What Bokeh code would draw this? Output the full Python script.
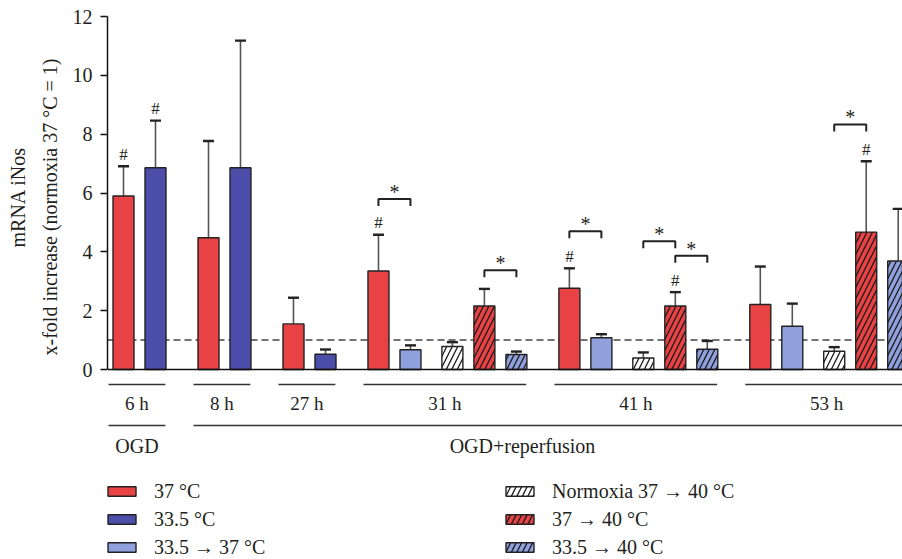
import math
from bokeh.plotting import figure
from bokeh.models import (Range1d, FixedTicker, Span, Whisker, TeeHead, ColumnDataSource,
                          Legend, LegendItem, Title)
from bokeh.core.properties import value
from bokeh.embed import file_html
from bokeh.resources import INLINE

# ---------------- data ----------------
groups = ["6 h", "8 h", "27 h", "31 h", "41 h", "53 h"]
conditions = ["37 °C", "33.5 °C", "33.5 → 37 °C",
              "Normoxia 37 → 40 °C", "37 → 40 °C", "33.5 → 40 °C"]
hatched = [False, False, False, True, True, True]
colors = ["#E84244", "#4C4EA9", "#8FA0DC", "#FFFFFF", "#E84244", "#8FA0DC"]

mean_37 = [5.90, 4.48, 1.55, 3.35, 2.76, 2.21]
sd_37 = [1.01, 3.29, 0.89, 1.23, 0.68, 1.29]
mean_335 = [6.86, 6.86, 0.52, None, None, None]
sd_335 = [1.60, 4.32, 0.16, None, None, None]
mean_335_37 = [None, None, None, 0.67, 1.08, 1.47]
sd_335_37 = [None, None, None, 0.15, 0.12, 0.77]
mean_norm_40 = [None, None, None, 0.78, 0.39, 0.62]
sd_norm_40 = [None, None, None, 0.15, 0.19, 0.14]
mean_37_40 = [None, None, None, 2.16, 2.16, 4.67]
sd_37_40 = [None, None, None, 0.58, 0.47, 2.41]
mean_335_40 = [None, None, None, 0.51, 0.69, 3.69]
sd_335_40 = [None, None, None, 0.10, 0.28, 1.77]

means = [mean_37, mean_335, mean_335_37, mean_norm_40, mean_37_40, mean_335_40]
sds = [sd_37, sd_335, sd_335_37, sd_norm_40, sd_37_40, sd_335_40]

# "#" marks: (group, condition index)
hash_marks = [("6 h", 0), ("6 h", 1), ("31 h", 0), ("41 h", 0), ("41 h", 4), ("53 h", 4)]
# "*" brackets: (group, condition a, condition b, bracket level)
brackets = [("31 h", 0, 2, 5.80), ("31 h", 4, 5, 3.37), ("41 h", 0, 2, 4.70),
            ("41 h", 3, 4, 4.36), ("41 h", 4, 5, 3.87), ("53 h", 3, 4, 8.33)]
phase_labels = ["OGD", "OGD+reperfusion"]
y_ticks = [0, 2, 4, 6, 8, 10, 12]
y_title_1 = "mRNA iNos"
y_title_2 = "x-fold increase (normoxia 37 °C = 1)"

# ---------------- layout ----------------
W, H = 902, 559
LEFT, TOP = 107, 16
PX_UNIT = 32.0                    # pixels per x unit
PPU = (369 - 16) / 12.0           # pixels per y unit
FRAME_H = H - TOP
BAR_W = 21 / PX_UNIT
X0, STEP, SUB_GAP, GROUP_GAP = 0.50, 1.0, 1.31, 1.656
FONT = "Liberation Serif"
TXT = "#231F20"


def y_px(py):
    return (369 - py) / PPU


def x_px(px):
    return (px - LEFT) / PX_UNIT


pos = {}
x = X0 - GROUP_GAP
for gi in range(len(groups)):
    x += GROUP_GAP
    first = True
    prev_h = False
    for ci in range(len(conditions)):
        if means[ci][gi] is None:
            continue
        if not first:
            x += SUB_GAP if (hatched[ci] and not prev_h) else STEP
        pos[(gi, ci)] = x
        first = False
        prev_h = hatched[ci]

p = figure(width=W, height=H, output_backend="svg", toolbar_location=None,
           x_range=Range1d(0, (W - LEFT) / PX_UNIT),
           y_range=Range1d(12 - FRAME_H / PPU, 12),
           x_axis_location=None, min_border_left=LEFT, min_border_top=TOP,
           min_border_bottom=0, min_border_right=0)
p.outline_line_color = None
p.xgrid.visible = False
p.ygrid.visible = False
p.background_fill_color = "white"

# reference dashed line
p.add_layout(Span(location=1, dimension="width", line_color="#444444", line_width=1.5,
                  line_dash="7 4", level="underlay"))

rends = []
for ci, cond in enumerate(conditions):
    xs, tops, ups = [], [], []
    for gi in range(len(groups)):
        if means[ci][gi] is None:
            continue
        xs.append(pos[(gi, ci)])
        tops.append(means[ci][gi])
        ups.append(means[ci][gi] + sds[ci][gi])
    src = ColumnDataSource(dict(x=xs, top=tops, upper=ups))
    kw = {}
    if hatched[ci]:
        kw = dict(hatch_pattern="/", hatch_color="#1A1A1A", hatch_scale=11, hatch_weight=1.3)
    r = p.vbar(x="x", top="top", bottom=0, width=BAR_W, source=src,
               fill_color=colors[ci], line_color="#222222", line_width=1.4, **kw)
    rends.append(r)
    p.add_layout(Whisker(base="x", upper="upper", lower="top", source=src,
                         line_color="#555555", line_width=1.6,
                         upper_head=TeeHead(size=11, line_color="#222222", line_width=2.4),
                         lower_head=None))

# baseline
p.add_layout(Span(location=0, dimension="width", line_color="#111111", line_width=1.5))

# hash marks
hx, hy = [], []
for g, ci in hash_marks:
    gi = groups.index(g)
    hx.append(pos[(gi, ci)])
    hy.append(means[ci][gi] + sds[ci][gi] + 12 / PPU)
p.text(x=hx, y=hy, text=["#"] * len(hx), text_font=value(FONT), text_font_size="17px",
       text_align="center", text_baseline="middle", text_color=TXT)

# brackets
bxs, bys, sx, sy = [], [], [], []
LEG = 7 / PPU
for g, a, b, lvl in brackets:
    gi = groups.index(g)
    xa, xb = pos[(gi, a)], pos[(gi, b)]
    bxs.append([xa, xa, xb, xb])
    bys.append([lvl - LEG, lvl, lvl, lvl - LEG])
    sx.append((xa + xb) / 2)
    sy.append(lvl + 7 / PPU)
p.multi_line(bxs, bys, line_color="#222222", line_width=2)
p.text(x=sx, y=sy, text=["*"] * len(sx), text_font=value(FONT), text_font_size="20px",
       text_align="center", text_baseline="middle", text_color=TXT)

# group underlines and labels
lx, ly, lt = [], [], []
gx0, gx1 = [], []
for gi, g in enumerate(groups):
    xs = [pos[k] for k in pos if k[0] == gi]
    a = min(xs) - BAR_W / 2 - 0.14
    b = max(xs) + BAR_W / 2 - 0.02
    gx0.append(a)
    gx1.append(b)
    lx.append((a + b) / 2)
    ly.append(y_px(402.5))
    lt.append(g)
p.segment(x0=gx0, y0=[y_px(384)] * len(gx0), x1=gx1, y1=[y_px(384)] * len(gx1),
          line_color="#333333", line_width=1.6)
p.text(x=lx, y=ly, text=lt, text_font=value(FONT), text_font_size="19px",
       text_align="center", text_baseline="middle", text_color=TXT)

# phase lines and labels
p.segment(x0=[gx0[0], gx0[1]], y0=[y_px(425)] * 2, x1=[gx1[0], 30], y1=[y_px(425)] * 2,
          line_color="#333333", line_width=1.6)
p.text(x=[(gx0[0] + gx1[0]) / 2, x_px(522)], y=[y_px(445)] * 2, text=phase_labels,
       text_font=value(FONT), text_font_size="20px", text_align="center",
       text_baseline="middle", text_color=TXT)

# y axis
ax = p.yaxis[0]
ax.ticker = FixedTicker(ticks=y_ticks)
ax.bounds = (0, 12)
ax.major_tick_out = 7
ax.major_tick_in = 0
ax.minor_tick_line_color = None
ax.axis_line_width = 1.5
ax.axis_line_color = "#111111"
ax.major_tick_line_width = 1.5
ax.major_tick_line_color = "#111111"
ax.major_label_text_font = FONT
ax.major_label_text_font_size = "20px"
ax.major_label_text_color = TXT
ax.major_label_standoff = 8

# y axis title: two vertical title lines on the left, starting from the bottom
t2 = Title(text=y_title_2, align="left", offset=H - 355, text_font=FONT,
           text_font_size="20px", text_font_style="normal", text_color=TXT, standoff=17,
           text_line_height=0.8)
t1 = Title(text=y_title_1, align="left", offset=H - 247, text_font=FONT,
           text_font_size="20px", text_font_style="normal", text_color=TXT, standoff=0)
p.add_layout(t2, "left")
p.add_layout(t1, "left")

# legends
common = dict(glyph_width=35, glyph_height=12, label_standoff=15, label_text_font=FONT,
              label_text_font_size="20px", label_text_color=TXT, label_height=28,
              spacing=0, padding=0, margin=0, border_line_color=None,
              background_fill_alpha=0)
leg1 = Legend(items=[LegendItem(label=conditions[i], renderers=[rends[i]])
                     for i in range(3)], location=(-3, -2), **common)
leg2 = Legend(items=[LegendItem(label=conditions[i], renderers=[rends[i]])
                     for i in range(3, 6)], location=(395, -2), **common)
p.add_layout(leg1)
p.add_layout(leg2)

open("out.html", "w").write(file_html(p, INLINE))
